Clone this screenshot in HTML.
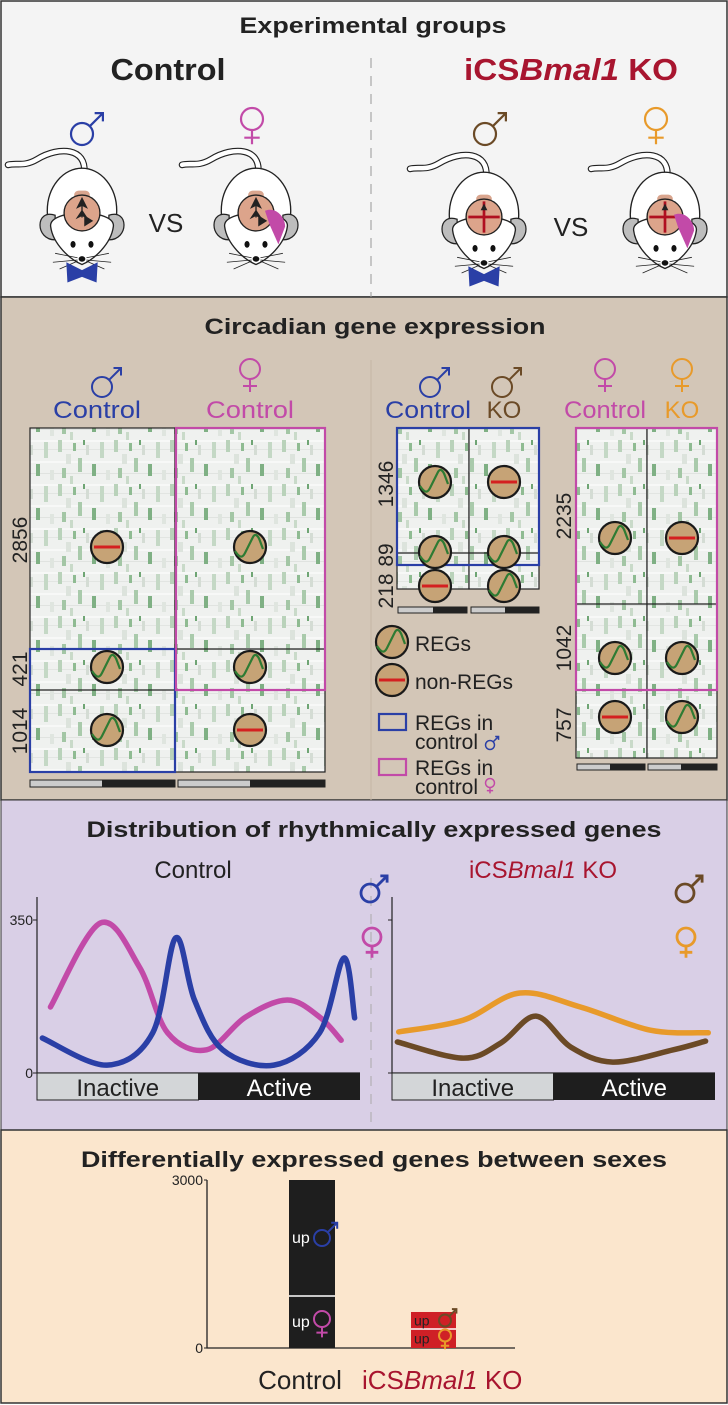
<!DOCTYPE html>
<html><head><meta charset="utf-8">
<style>
html,body{margin:0;padding:0;background:#fff}
svg{display:block}
text{font-family:"Liberation Sans",sans-serif}
</style></head>
<body>
<svg id="root" width="728" height="1405" viewBox="0 0 728 1405" xmlns="http://www.w3.org/2000/svg">
<defs>
  <pattern id="hm" width="56" height="44" patternUnits="userSpaceOnUse">
    <rect width="56" height="44" fill="#eff1ef"/>
    <rect x="0" y="0" width="56" height="2" fill="#f7f8f7"/>
    <rect x="0" y="9" width="56" height="1" fill="#e2e5e2"/>
    <rect x="0" y="21" width="56" height="2" fill="#f7f8f7"/>
    <rect x="0" y="33" width="56" height="1" fill="#e0e3e0"/>
    <rect x="2" y="0" width="4" height="12" fill="#b9d2ba"/>
    <rect x="10" y="14" width="5" height="10" fill="#dce3dc"/>
    <rect x="17" y="3" width="3" height="8" fill="#8fbb92"/>
    <rect x="22" y="18" width="4" height="14" fill="#a9caab"/>
    <rect x="30" y="5" width="3" height="10" fill="#d4dcd4"/>
    <rect x="36" y="24" width="4" height="12" fill="#7fb084"/>
    <rect x="44" y="2" width="4" height="16" fill="#c4d8c5"/>
    <rect x="50" y="30" width="4" height="10" fill="#dfe5df"/>
    <rect x="6" y="28" width="4" height="10" fill="#a3c6a5"/>
    <rect x="27" y="0" width="2" height="5" fill="#6fa574"/>
    <rect x="14" y="36" width="3" height="8" fill="#c9dac9"/>
  </pattern>
  <g id="mouse">
    <path d="M2,-36 C4,-58 -20,-60 -40,-48 C-52,-41 -58,-45 -66,-43" fill="none" stroke="#222" stroke-width="6" stroke-linecap="round"/>
    <path d="M2,-36 C4,-58 -20,-60 -40,-48 C-52,-41 -58,-45 -66,-43" fill="none" stroke="#fff" stroke-width="4" stroke-linecap="round"/>
    <ellipse cx="0" cy="-2" rx="31" ry="38" fill="#fff" stroke="#222" stroke-width="1.2"/>
    <path d="M-24,2 C-42,-4 -42,24 -24,24 Z" fill="#bdbdbd" stroke="#222" stroke-width="1.1"/>
    <path d="M24,2 C42,-4 42,24 24,24 Z" fill="#bdbdbd" stroke="#222" stroke-width="1.1"/>
    <path d="M-28,12 C-30,-4 30,-4 28,12 C26,28 10,42 0,46 C-10,42 -26,28 -28,12 Z" fill="#fff" stroke="#222" stroke-width="1.2"/>
    <rect x="-7" y="-20" width="14" height="34" rx="4" fill="#d9a58e"/>
    <circle cx="0" cy="0" r="16" fill="#dca48b" stroke="#222" stroke-width="1.2"/>
    <ellipse cx="-8" cy="28" rx="2.3" ry="3" fill="#111"/>
    <ellipse cx="8" cy="28" rx="2.3" ry="3" fill="#111"/>
    <ellipse cx="0" cy="41" rx="3" ry="2.5" fill="#111"/>
    <path d="M-4,40 L-24,36 M-4,42 L-26,44 M-4,43 L-20,50 M4,40 L24,36 M4,42 L26,44 M4,43 L20,50" stroke="#222" stroke-width="0.7" fill="none"/>
  </g>
  <g id="ctrlbrain">
    <path d="M0,-13 L-4,-5 L0,-7 L4,-5 Z M0,-7 L0,4 M0,-2 L-4,4 L0,2 L4,4 Z" fill="#222" stroke="#222" stroke-width="1.2"/>
    <path d="M2,2 L10,7 L2,12 Z" fill="#222"/>
  </g>
  <g id="kobrain">
    <path d="M0,-14 L0,14 M-14,0 L14,0" stroke="#b01020" stroke-width="2.4"/>
    <path d="M0,-12 L-3,-6 L3,-6 Z" fill="#222"/>
  </g>
  <g id="blueBow"><path d="M-14,-9 L0,-2 L14,-9 L13,9 L0,4 L-13,9 Z" fill="#2a3fa6"/></g>
  <g id="reg"><circle r="16" fill="#c6a376" stroke="#1a1a1a" stroke-width="2.2"/><path d="M-15,4 C-11,10 -8,12 -5,6 L3,-10 C5,-14 8,-12 10,-6 L13,2" fill="none" stroke="#2e7b33" stroke-width="2.2"/></g>
  <g id="nonreg"><circle r="16" fill="#c6a376" stroke="#1a1a1a" stroke-width="2.2"/><path d="M-13,0 L13,0" stroke="#d42020" stroke-width="3"/></g>
</defs>

<rect x="1" y="1" width="726" height="296" fill="#f4f4f4" stroke="#333" stroke-width="1.5"/>
<rect x="1" y="297" width="726" height="503" fill="#d3c6b7" stroke="#333" stroke-width="1.5"/>
<rect x="1" y="800" width="726" height="330" fill="#d9cfe6" stroke="#333" stroke-width="1"/>
<rect x="1" y="1130" width="726" height="273" fill="#fbe6cd" stroke="#333" stroke-width="1.5"/>

<text x="373" y="33" font-size="22" font-weight="bold" text-anchor="middle" textLength="267" lengthAdjust="spacingAndGlyphs" fill="#222">Experimental groups</text>
<line x1="371" y1="58" x2="371" y2="297" stroke="#999" stroke-width="1" stroke-dasharray="10,8"/>
<text x="168" y="80" font-size="31" font-weight="bold" text-anchor="middle" textLength="115" lengthAdjust="spacingAndGlyphs" fill="#222">Control</text>
<text x="571" y="80" font-size="31" font-weight="bold" text-anchor="middle" textLength="214" lengthAdjust="spacingAndGlyphs" fill="#a8152f">iCS<tspan font-style="italic">Bmal1</tspan> KO</text>
<g id="topSymbols"></g>

<g transform="translate(82,213) scale(1.12)"><use href="#mouse"/><use href="#ctrlbrain"/><use href="#blueBow" transform="translate(0,53)"/></g>
<g transform="translate(256,213) scale(1.12)"><use href="#mouse"/><use href="#ctrlbrain"/><path d="M8,-2 C18,-6 26,4 26,12 L20,28 L12,10 Z" fill="#c24aa8"/></g>
<g transform="translate(484,217) scale(1.12)"><use href="#mouse"/><use href="#kobrain"/><use href="#blueBow" transform="translate(0,53)"/></g>
<g transform="translate(665,217) scale(1.12)"><use href="#mouse"/><use href="#kobrain"/><path d="M8,-2 C18,-6 26,4 26,12 L20,28 L12,10 Z" fill="#c24aa8"/></g>
<text x="166" y="232" font-size="26" text-anchor="middle" fill="#222">VS</text>
<text x="571" y="236" font-size="26" text-anchor="middle" fill="#222">VS</text>

<text x="375" y="334" font-size="22" font-weight="bold" text-anchor="middle" textLength="341" lengthAdjust="spacingAndGlyphs" fill="#222">Circadian gene expression</text>
<line x1="371" y1="360" x2="371" y2="800" stroke="#c4b6a6" stroke-width="1"/>
<text x="97" y="418" font-size="24" text-anchor="middle" textLength="88" lengthAdjust="spacingAndGlyphs" fill="#2a3fa6">Control</text>
<text x="250" y="418" font-size="24" text-anchor="middle" textLength="88" lengthAdjust="spacingAndGlyphs" fill="#c24aa8">Control</text>
<text x="428" y="418" font-size="24" text-anchor="middle" textLength="86" lengthAdjust="spacingAndGlyphs" fill="#2a3fa6">Control</text>
<text x="504" y="418" font-size="24" text-anchor="middle" fill="#6b4a26">KO</text>
<text x="605" y="418" font-size="24" text-anchor="middle" textLength="82" lengthAdjust="spacingAndGlyphs" fill="#c24aa8">Control</text>
<text x="682" y="418" font-size="24" text-anchor="middle" fill="#e89a2a">KO</text>

<g>
  <rect x="30" y="428" width="145" height="344" fill="url(#hm)" stroke="#222" stroke-width="1.2"/>
  <rect x="175" y="428" width="150" height="344" fill="url(#hm)" stroke="#222" stroke-width="1.2"/>
  <line x1="30" y1="649" x2="325" y2="649" stroke="#222" stroke-width="1.2"/>
  <line x1="30" y1="690" x2="325" y2="690" stroke="#222" stroke-width="1.2"/>
  <rect x="30" y="649" width="145" height="123" fill="none" stroke="#2a3fa6" stroke-width="2.2"/>
  <rect x="176" y="428" width="149" height="262" fill="none" stroke="#c24aa8" stroke-width="2.2"/>
  <rect x="30" y="780" width="145" height="7" fill="#ccc" stroke="#222"/><rect x="102" y="780" width="73" height="7" fill="#222"/>
  <rect x="178" y="780" width="147" height="7" fill="#ccc" stroke="#222"/><rect x="250" y="780" width="75" height="7" fill="#222"/>
  <use href="#nonreg" x="107" y="547"/><use href="#reg" x="250" y="547"/>
  <use href="#reg" x="107" y="667"/><use href="#reg" x="250" y="667"/>
  <use href="#reg" x="107" y="730"/><use href="#nonreg" x="250" y="730"/>
</g>
<text transform="translate(27,540) rotate(-90)" font-size="21" text-anchor="middle" fill="#222">2856</text>
<text transform="translate(27,669) rotate(-90)" font-size="21" text-anchor="middle" fill="#222">421</text>
<text transform="translate(27,731) rotate(-90)" font-size="21" text-anchor="middle" fill="#222">1014</text>

<g>
  <rect x="397" y="428" width="72" height="161" fill="url(#hm)" stroke="#222" stroke-width="1.2"/>
  <rect x="469" y="428" width="70" height="161" fill="url(#hm)" stroke="#222" stroke-width="1.2"/>
  <line x1="397" y1="553" x2="539" y2="553" stroke="#222" stroke-width="1.2"/>
  <rect x="397" y="428" width="142" height="137" fill="none" stroke="#2a3fa6" stroke-width="2.2"/>
  <rect x="398" y="607" width="69" height="6" fill="#ccc" stroke="#222"/><rect x="433" y="607" width="34" height="6" fill="#222"/>
  <rect x="471" y="607" width="68" height="6" fill="#ccc" stroke="#222"/><rect x="505" y="607" width="34" height="6" fill="#222"/>
  <use href="#reg" x="435" y="482"/><use href="#nonreg" x="504" y="482"/>
  <use href="#reg" x="435" y="552"/><use href="#reg" x="504" y="552"/>
  <use href="#nonreg" x="435" y="586"/><use href="#reg" x="504" y="586"/>
</g>
<text transform="translate(393,484) rotate(-90)" font-size="21" text-anchor="middle" fill="#222">1346</text>
<text transform="translate(393,555) rotate(-90)" font-size="21" text-anchor="middle" fill="#222">89</text>
<text transform="translate(393,591) rotate(-90)" font-size="21" text-anchor="middle" fill="#222">218</text>

<g>
  <use href="#reg" x="392" y="642"/><text x="415" y="651" font-size="21" fill="#222">REGs</text>
  <use href="#nonreg" x="392" y="680"/><text x="415" y="689" font-size="21" fill="#222">non-REGs</text>
  <rect x="379" y="714" width="27" height="16" fill="none" stroke="#2a3fa6" stroke-width="2.2"/>
  <text x="415" y="730" font-size="21" fill="#222">REGs in</text><text x="415" y="749" font-size="21" fill="#222">control</text>
  <rect x="379" y="759" width="27" height="16" fill="none" stroke="#c24aa8" stroke-width="2.2"/>
  <text x="415" y="775" font-size="21" fill="#222">REGs in</text><text x="415" y="794" font-size="21" fill="#222">control</text>
</g>
<g id="legendSyms"></g>

<g>
  <rect x="576" y="428" width="71" height="330" fill="url(#hm)" stroke="#222" stroke-width="1.2"/>
  <rect x="647" y="428" width="70" height="330" fill="url(#hm)" stroke="#222" stroke-width="1.2"/>
  <line x1="576" y1="604" x2="717" y2="604" stroke="#222" stroke-width="1.2"/>
  <line x1="576" y1="690" x2="717" y2="690" stroke="#222" stroke-width="1.2"/>
  <rect x="576" y="428" width="141" height="262" fill="none" stroke="#c24aa8" stroke-width="2.2"/>
  <rect x="577" y="764" width="68" height="6" fill="#ccc" stroke="#222"/><rect x="610" y="764" width="35" height="6" fill="#222"/>
  <rect x="648" y="764" width="69" height="6" fill="#ccc" stroke="#222"/><rect x="681" y="764" width="36" height="6" fill="#222"/>
  <use href="#reg" x="615" y="538"/><use href="#nonreg" x="682" y="538"/>
  <use href="#reg" x="615" y="658"/><use href="#reg" x="682" y="658"/>
  <use href="#nonreg" x="615" y="717"/><use href="#reg" x="682" y="717"/>
</g>
<text transform="translate(571,516) rotate(-90)" font-size="21" text-anchor="middle" fill="#222">2235</text>
<text transform="translate(571,648) rotate(-90)" font-size="21" text-anchor="middle" fill="#222">1042</text>
<text transform="translate(571,725) rotate(-90)" font-size="21" text-anchor="middle" fill="#222">757</text>

<text x="374" y="837" font-size="22" font-weight="bold" text-anchor="middle" textLength="575" lengthAdjust="spacingAndGlyphs" fill="#222">Distribution of rhythmically expressed genes</text>
<line x1="371" y1="878" x2="371" y2="1130" stroke="#aaa" stroke-dasharray="10,8"/>
<text x="193" y="878" font-size="24" text-anchor="middle" fill="#222">Control</text>
<text x="543" y="878" font-size="24" text-anchor="middle" fill="#a8152f">iCS<tspan font-style="italic">Bmal1</tspan> KO</text>
<g id="dist"></g>

<text x="374" y="1167" font-size="22" font-weight="bold" text-anchor="middle" textLength="586" lengthAdjust="spacingAndGlyphs" fill="#222">Differentially expressed genes between sexes</text>
<g id="deg"></g>
</svg>
<script>
const NS='http://www.w3.org/2000/svg';
function mk(parent,tag,attrs){const e=document.createElementNS(NS,tag);for(const k in attrs)e.setAttribute(k,attrs[k]);parent.appendChild(e);return e;}
function male(parent,x,y,s,c,w){const g=mk(parent,'g',{});
  
  
  mk(g,'circle',{cx:x,cy:y,r:s,fill:'none',stroke:c,'stroke-width':w});
  const a=s*0.72,L=s*1.9;mk(g,'path',{d:`M${x+a},${y-a} L${x+L},${y-L} M${x+L-s*0.75},${y-L} L${x+L},${y-L} L${x+L},${y-L+s*0.75}`,fill:'none',stroke:c,'stroke-width':w});return g;}
function female(parent,x,y,s,c,w){const g=mk(parent,'g',{});
  
  
  mk(g,'circle',{cx:x,cy:y,r:s,fill:'none',stroke:c,'stroke-width':w});
  mk(g,'path',{d:`M${x},${y+s} L${x},${y+s*2.3} M${x-s*0.7},${y+s*1.7} L${x+s*0.7},${y+s*1.7}`,fill:'none',stroke:c,'stroke-width':w});return g;}
const BLUE='#2a3fa6',PINK='#c24aa8',BROWN='#6b4a26',ORANGE='#e89a2a';
const ts=document.getElementById('topSymbols');
male(ts,82,134,11,BLUE,2.2);female(ts,252,119,11,PINK,2.2);male(ts,485,134,11,BROWN,2.2);female(ts,656,119,11,ORANGE,2.2);
male(ts,102,387,10,BLUE,2);female(ts,250,369,10,PINK,2);male(ts,430,387,10,BLUE,2);female(ts,605,369,10,PINK,2);male(ts,502,387,10,BROWN,2);female(ts,682,369,10,ORANGE,2);
const ls=document.getElementById('legendSyms');male(ls,490,745,4.5,BLUE,1.5);female(ls,490,783,4.5,PINK,1.5);

// ---- distribution chart data ----
const ctrlFemaleT=[1.0,4.7,7.6,9.7,12.6,15.5,18.6,21.0,22.6];
const ctrlFemaleV=[151,343,243,92,53,128,167,128,75];
const ctrlMaleT=[0.4,5.2,8.6,10.3,11.7,13.8,17.6,21.0,22.8,23.6];
const ctrlMaleV=[80,18,92,309,167,53,18,92,263,126];
const koFemaleT=[0.5,5.3,9.5,14.0,19.2,23.5];
const koFemaleV=[94,121,183,151,98,92];
const koMaleT=[0.4,5.3,8.1,10.7,13.3,16.4,20.9,23.3];
const koMaleV=[71,34,69,130,59,25,53,73];
const yTicks=[0,350];
const phaseLabels=['Inactive','Active'];
const dist=document.getElementById('dist');
const y0=1073,y350=920;
function yS(v){return y0-(v/350)*(y0-y350);}
function smooth(pts){let d=`M${pts[0][0]},${pts[0][1]}`;for(let i=0;i<pts.length-1;i++){const p0=pts[i-1]||pts[i],p1=pts[i],p2=pts[i+1],p3=pts[i+2]||p2;
 d+=` C${p1[0]+(p2[0]-p0[0])/6},${p1[1]+(p2[1]-p0[1])/6} ${p2[0]-(p3[0]-p1[0])/6},${p2[1]-(p3[1]-p1[1])/6} ${p2[0]},${p2[1]}`;}return d;}
function panel(x0,x1,series,name,showTicks){const xS=t=>x0+(t/24)*(x1-x0);
  const ax=mk(dist,'path',{d:`M${x0},897 L${x0},${y0} L${x1},${y0}`,fill:'none',stroke:'#222','stroke-width':1.2});
  
  
  yTicks.forEach(v=>{const tk=mk(dist,'line',{x1:x0-4,x2:x0,y1:yS(v),y2:yS(v),stroke:'#222'});
    
    
    if(showTicks){const tx=mk(dist,'text',{x:x0-4,y:yS(v)+5,'font-size':14,'text-anchor':'end',fill:'#222'});tx.textContent=String(v);
    
    }});
  const mid=(x0+x1)/2;
  const r1=mk(dist,'rect',{x:x0,y:y0,width:mid-x0,height:27,fill:'#d3d6d8',stroke:'#222'});
  
  
  const r2=mk(dist,'rect',{x:mid,y:y0,width:x1-mid,height:27,fill:'#1e1e1e'});
  
  
  const t1=mk(dist,'text',{x:(x0+mid)/2,y:y0+23,'font-size':24,'text-anchor':'middle',fill:'#222'});t1.textContent=phaseLabels[0];
  
  
  const t2=mk(dist,'text',{x:(mid+x1)/2,y:y0+23,'font-size':24,'text-anchor':'middle',fill:'#fff'});t2.textContent=phaseLabels[1];
  
  
  series.forEach(s=>{const pts=s.t.map((t,i)=>[xS(t),yS(s.v[i])]);
    const p=mk(dist,'path',{d:smooth(pts),fill:'none',stroke:s.c,'stroke-width':5.5,'stroke-linecap':'round'});
    
    });}
panel(37,360,[{t:ctrlFemaleT,v:ctrlFemaleV,c:PINK,n:'control-female-curve'},{t:ctrlMaleT,v:ctrlMaleV,c:BLUE,n:'control-male-curve'}],'control',true);
panel(392,715,[{t:koFemaleT,v:koFemaleV,c:ORANGE,n:'ko-female-curve'},{t:koMaleT,v:koMaleV,c:BROWN,n:'ko-male-curve'}],'ko',false);
male(dist,370,893,9,BLUE,2.8);female(dist,372,937,9,PINK,2.8);male(dist,685,893,9,BROWN,2.8);female(dist,686,937,9,ORANGE,2.8);

// ---- DEG bar chart data ----
const degCategories=['Control','iCSBmal1 KO'];
const upFemale=[929,339];
const upMale=[2071,304];
const degTicks=[0,3000];
const deg=document.getElementById('deg');
const by0=1348,by1=1180,bx0=207;
function bS(v){return by0-(v/3000)*(by0-by1);}
const dax=mk(deg,'path',{d:`M${bx0},${by1} L${bx0},${by0} L515,${by0}`,fill:'none',stroke:'#222','stroke-width':1.3});


degTicks.forEach(v=>{mk(deg,'line',{x1:bx0-3,x2:bx0,y1:bS(v),y2:bS(v),stroke:'#222'});
  const t=mk(deg,'text',{x:bx0-4,y:bS(v)+5,'font-size':14,'text-anchor':'end',fill:'#222'});t.textContent=String(v);
  
  });
const barX=[289,411],barW=[46,45],barFill=['#1e1e1e','#cf2026'];
degCategories.forEach((c,i)=>{
  const f=mk(deg,'rect',{x:barX[i],y:bS(upFemale[i]),width:barW[i],height:by0-bS(upFemale[i]),fill:barFill[i]});
  
  
  const m=mk(deg,'rect',{x:barX[i],y:bS(upFemale[i]+upMale[i]),width:barW[i],height:bS(upFemale[i])-bS(upFemale[i]+upMale[i]),fill:barFill[i]});
  
  
  mk(deg,'line',{x1:barX[i],x2:barX[i]+barW[i],y1:bS(upFemale[i]),y2:bS(upFemale[i]),stroke:'#fff','stroke-width':1.5});
  const big=i===0, fs=big?16:14;
  const ym=(bS(upFemale[i])+bS(upFemale[i]+upMale[i]))/2;
  const yf=(by0+bS(upFemale[i]))/2;
  const t1=mk(deg,'text',{x:barX[i]+3,y:ym+5,'font-size':fs,fill:big?'#fff':'#222'});t1.textContent='up';
  
  
  const t2=mk(deg,'text',{x:barX[i]+3,y:yf+5,'font-size':fs,fill:big?'#fff':'#222'});t2.textContent='up';
  
  
  const s=big?8:6;
  male(deg,barX[i]+(big?33:34),ym,s,big?BLUE:BROWN,2);
  female(deg,barX[i]+(big?33:34),yf-3,s,big?PINK:ORANGE,2);
});
const c1=mk(deg,'text',{x:300,y:1389,'font-size':26,'text-anchor':'middle',fill:'#222'});c1.textContent=degCategories[0];


const c2=mk(deg,'text',{x:362,y:1389,'font-size':26,fill:'#a8152f'});


c2.innerHTML='iCS<tspan font-style="italic">Bmal1</tspan> KO';
</script>
</body></html>
